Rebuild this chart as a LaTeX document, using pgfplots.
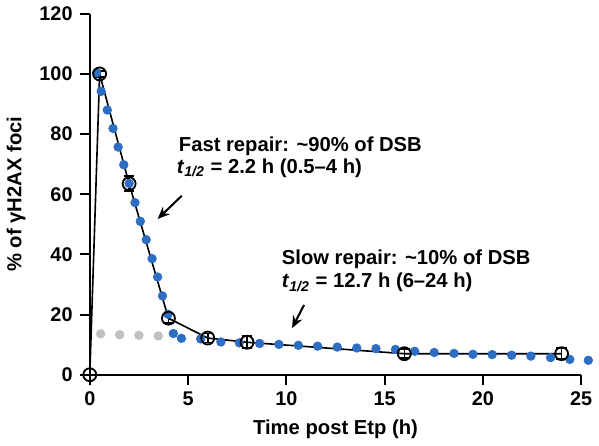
\documentclass[border=0pt]{standalone}
\usepackage{fontspec}
\setmainfont{Liberation Sans}
\usepackage{xcolor}
\usepackage{pgfplots}
\pgfplotsset{compat=1.18}
\usetikzlibrary{arrows.meta}
\definecolor{dotblue}{RGB}{45,110,195}
\definecolor{dotgray}{RGB}{192,192,192}

\begin{document}
\begin{tikzpicture}
\begin{axis}[
    scale only axis,
    width=243pt,
    height=178.5pt,
    xmin=0, xmax=25,
    ymin=0, ymax=120,
    axis lines=left,
    axis line style={-, line width=1pt},
    tick align=outside,
    major tick length=5pt,
    tick style={line width=1pt, black},
    xtick={0,5,...,25},
    ytick={0,20,...,120},
    /pgf/number format/assume math mode=true,
    ticklabel style={font=\fontsize{9.8}{10}\selectfont\bfseries},
    xlabel={Time post Etp (h)},
    ylabel={\% of γH2AX foci},
    label style={font=\fontsize{10}{12}\selectfont\bfseries},
    clip=false,
]
% model, fast component start (grey)
\addplot[only marks, mark=*, mark size=2.1pt, mark options={draw=dotgray, fill=dotgray}] coordinates {
    (0.55,13.6) (1.52,13.3) (2.5,13.1) (3.48,12.9)
};
% model fit (blue)
\addplot[only marks, mark=*, mark size=2.1pt, mark options={draw=dotblue, fill=dotblue}] coordinates {
    (0.35,100.4) (0.58,94.2) (0.89,88.0) (1.18,81.9) (1.44,75.7) (1.73,69.8)
    (2.0,63.6) (2.3,57.2) (2.57,51.0) (2.87,44.9) (3.17,38.6) (3.45,32.5)
    (3.70,26.2) (3.98,20.1) (4.25,13.7) (4.66,12.1)
    (5.64,11.9) (6.67,10.9) (7.61,10.6) (8.64,10.4) (9.62,10.1) (10.61,9.8)
    (11.59,9.5) (12.59,9.2) (13.58,8.9) (14.56,8.7) (15.55,8.4) (16.53,7.8)
    (17.52,7.4) (18.53,7.1) (19.49,6.8) (20.47,6.7) (21.46,6.5) (22.44,6.2)
    (23.44,5.7) (24.42,5.1) (25.36,4.8)
};
% measured foci
\addplot[black, line width=0.8pt, mark=o, mark size=3.2pt, mark options={line width=0.9pt},
    error bars/.cd, y dir=both, y explicit,
    error bar style={line width=0.8pt},
    error mark options={rotate=90, mark size=2.6pt, line width=0.8pt}]
    coordinates {
    (0,0) +- (0,0)
    (0.5,100) +- (0,1)
    (2,63.5) +- (0,2.5)
    (4,18.8) +- (0,1.5)
    (6,12.2) +- (0,1.5)
    (8,10.8) +- (0,2)
    (16,7.0) +- (0,1.5)
    (24,7.0) +- (0,1.8)
};
\node[anchor=base west, font=\fontsize{10}{12}\selectfont\bfseries] at (axis cs:4.17,74.3) {Fast repair: \textasciitilde 90\% of DSB};
\node[anchor=base west, font=\fontsize{10}{12}\selectfont\bfseries] at (axis cs:4.07,66.9) {\textit{t}\textsubscript{\textit{1/2}} = 2.2 h (0.5–4 h)};
\node[anchor=base west, font=\fontsize{10}{12}\selectfont\bfseries] at (axis cs:9.41,36.6) {Slow repair: \textasciitilde 10\% of DSB};
\node[anchor=base west, font=\fontsize{10}{12}\selectfont\bfseries] at (axis cs:9.41,28.9) {\textit{t}\textsubscript{\textit{1/2}} = 12.7 h (6–24 h)};
\draw[-{Stealth[length=6pt, width=5pt]}, line width=1pt] (axis cs:4.68,59.5) -- (axis cs:3.45,51.8);
\draw[-{Stealth[length=6pt, width=5pt]}, line width=1pt] (axis cs:10.9,23.2) -- (axis cs:10.29,15.5);
\end{axis}
\end{tikzpicture}
\end{document}
